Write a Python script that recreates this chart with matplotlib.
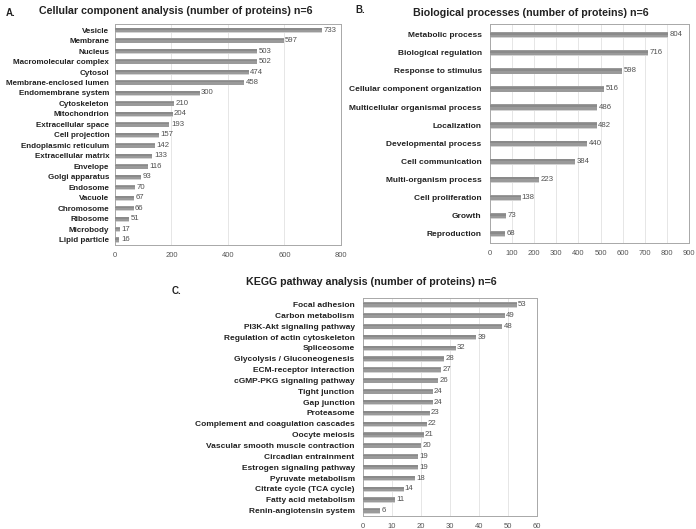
import numpy as np
import matplotlib
matplotlib.use("Agg")
import matplotlib.pyplot as plt

plt.rcParams['font.family'] = ['Liberation Sans', 'DejaVu Sans']

cc_labels = ["Vesicle", "Membrane", "Nucleus", "Macromolecular complex", "Cytosol",
             "Membrane-enclosed lumen", "Endomembrane system", "Cytoskeleton",
             "Mitochondrion", "Extracellular space", "Cell projection",
             "Endoplasmic reticulum", "Extracellular matrix", "Envelope",
             "Golgi apparatus", "Endosome", "Vacuole", "Chromosome", "Ribosome",
             "Microbody", "Lipid particle"]
cc_values = [733, 597, 503, 502, 474, 458, 300, 210, 204, 193, 157, 142, 133, 116,
             93, 70, 67, 66, 51, 17, 16]

bp_labels = ["Metabolic process", "Biological regulation", "Response to stimulus",
             "Cellular component organization", "Multicellular organismal process",
             "Localization", "Developmental process", "Cell communication",
             "Multi-organism process", "Cell proliferation", "Growth", "Reproduction"]
bp_values = [804, 716, 598, 516, 486, 482, 440, 384, 223, 138, 73, 68]

kegg_labels = ["Focal adhesion", "Carbon metabolism", "PI3K-Akt signaling pathway",
               "Regulation of actin cytoskeleton", "Spliceosome",
               "Glycolysis / Gluconeogenesis", "ECM-receptor interaction",
               "cGMP-PKG signaling pathway", "Tight junction", "Gap junction",
               "Proteasome", "Complement and coagulation cascades", "Oocyte meiosis",
               "Vascular smooth muscle contraction", "Circadian entrainment",
               "Estrogen signaling pathway", "Pyruvate metabolism",
               "Citrate cycle (TCA cycle)", "Fatty acid metabolism",
               "Renin-angiotensin system"]
kegg_values = [53, 49, 48, 39, 32, 28, 27, 26, 24, 24, 23, 22, 21, 20, 19, 19, 18,
               14, 11, 6]


def draw_panel(ax, labels, values, xmax, step, height, lab_size=6.0, lab_pad=6):
    y = np.arange(len(labels))
    off = xmax / 150.0
    # soft shadow under each bar
    ax.barh(y + height * 0.35, values, height=height * 0.6, color="#d4d4d4", zorder=2)
    ax.barh(y, values, height=height, color="#9a9a9a", zorder=3)
    ax.barh(y - height * 0.2, values, height=height * 0.35, color="#8a8a8a", zorder=3)
    for yi, v in zip(y, values):
        ax.text(v + off, yi, str(v), va="center", ha="left",
                fontsize=5.6, color="#505050", zorder=4)
    ax.set_xlim(0, xmax)
    ax.set_ylim(len(labels) - 0.5, -0.6)
    ax.set_xticks(np.arange(0, xmax + step, step))
    ax.set_yticks(y)
    ax.set_yticklabels(labels, fontsize=lab_size, fontweight="bold", color="#222222")
    ax.tick_params(axis="x", labelsize=5.5, labelcolor="#555555", length=0, pad=5)
    ax.tick_params(axis="y", length=0, pad=lab_pad)
    ax.grid(axis="x", color="#e2e2e2", linewidth=0.6, zorder=0)
    ax.set_axisbelow(True)
    for s in ax.spines.values():
        s.set_color("#a8a8a8")
        s.set_linewidth(0.7)


fig = plt.figure(figsize=(6.96, 5.29), dpi=100)

ax_a = fig.add_axes([0.165, 0.537, 0.325, 0.418])
draw_panel(ax_a, cc_labels, cc_values, 800, 200, 0.42, lab_size=5.8, lab_pad=4)

ax_b = fig.add_axes([0.704, 0.541, 0.286, 0.414])
draw_panel(ax_b, bp_labels, bp_values, 900, 100, 0.3)

ax_c = fig.add_axes([0.5216, 0.0246, 0.25, 0.412])
draw_panel(ax_c, kegg_labels, kegg_values, 60, 10, 0.42)

title_kw = dict(fontsize=7.7, fontweight="bold", color="#222222", ha="center", va="center")
fig.text(0.252, 0.980, "Cellular component analysis (number of proteins) n=6", **title_kw)
fig.text(0.762, 0.976, "Biological processes (number of proteins) n=6", **title_kw)
fig.text(0.533, 0.467, "KEGG pathway analysis (number of proteins) n=6", **title_kw)

fig.text(0.008, 0.985, "A.", fontsize=7, fontweight="bold", va="top", color="#222222")
fig.text(0.51, 0.990, "B.", fontsize=7, fontweight="bold", va="top", color="#222222")
fig.text(0.247, 0.460, "C.", fontsize=7, fontweight="bold", va="top", color="#222222")

fig.savefig("out.png", dpi=100)
